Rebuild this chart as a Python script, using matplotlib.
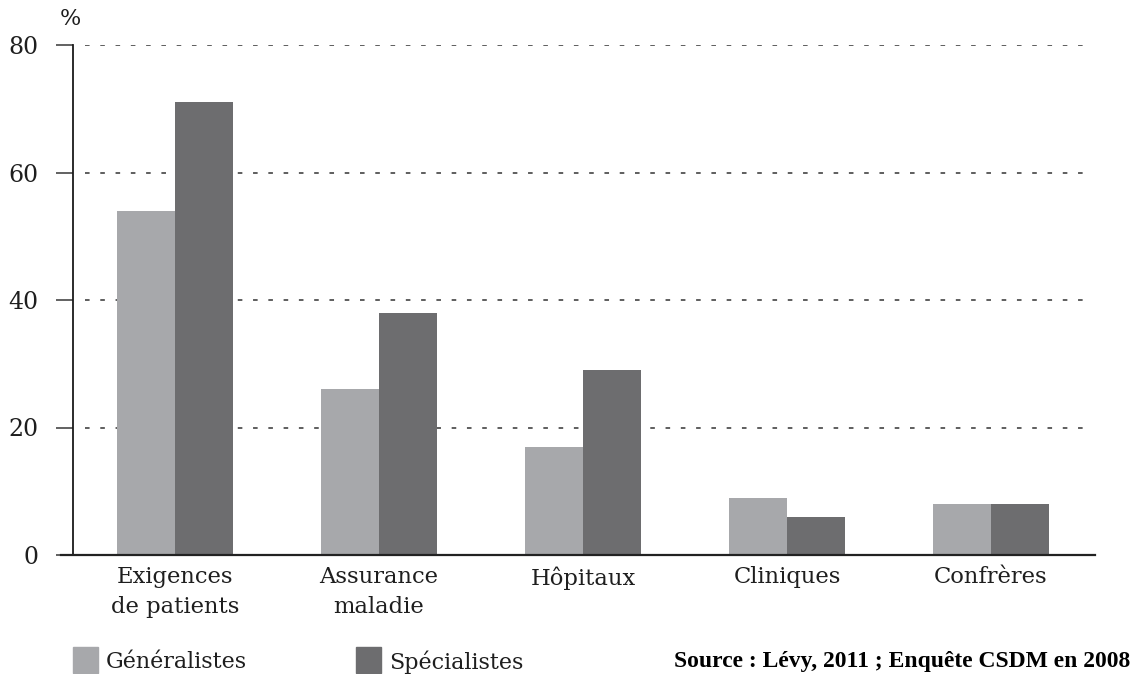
import numpy as np
import matplotlib.pyplot as plt
from matplotlib.patches import Rectangle

categories = ["Exigences\nde patients", "Assurance\nmaladie", "Hôpitaux", "Cliniques", "Confrères"]
generalistes = [54, 26, 17, 9, 8]
specialistes = [71, 38, 29, 6, 8]
series_names = ["Généralistes", "Spécialistes"]
yticks = [0, 20, 40, 60, 80]

light = "#a7a8ab"
dark = "#6d6d6f"
txt = "#1e1e1e"

plt.rcParams['font.family'] = ['DejaVu Serif']

fig = plt.figure(figsize=(11.36, 6.74), dpi=100)
W, H = 1136, 674
ax = fig.add_axes([61 / W, 119 / H, (1095 - 61) / W, (555 - 45) / H])

x = np.arange(len(categories))
bw = 0.285
ax.bar(x - bw / 2, generalistes, bw, color=light, zorder=3)
ax.bar(x + bw / 2, specialistes, bw, color=dark, zorder=3)

ax.set_xlim(-0.559, 4.51)
ax.set_ylim(0, 80)

# dotted grid lines
for v in yticks[1:]:
    ax.plot([-0.44, 4.48], [v, v], color="#333333", lw=1.1,
            linestyle=(0, (3, 7)), zorder=1)

for s in ["top", "right"]:
    ax.spines[s].set_visible(False)
ax.spines["bottom"].set_color("#222222")
ax.spines["bottom"].set_linewidth(1.6)
ax.spines["bottom"].set_zorder(4)
ax.spines["left"].set_position(("data", -0.5))
ax.spines["left"].set_color("#1a1a1a")
ax.spines["left"].set_linewidth(1.3)
ax.spines["left"].set_zorder(4)

ax.set_yticks(yticks)
ax.set_yticklabels([str(v) for v in yticks], fontsize=17, color=txt)
ax.tick_params(axis="y", length=12, width=1.3, color="#555555", pad=13)
ax.set_xticks(x)
ax.set_xticklabels(categories, fontsize=16.3, color=txt, linespacing=1.45)
ax.tick_params(axis="x", length=0, pad=8)

fig.text(70 / W, 1 - 19 / H, "%", fontsize=16, color=txt, ha="center", va="center")

# legend
for i, (name, col) in enumerate(zip(series_names, [light, dark])):
    x0 = [73, 356][i]
    fig.patches.append(Rectangle((x0 / W, 1 - 673 / H), 25 / W, 26 / H,
                                 transform=fig.transFigure, color=col))
    fig.text((x0 + 33) / W, 1 - 662 / H, name, fontsize=16, color=txt,
             ha="left", va="center")

fig.text(1130 / W, 1 - 662 / H, "Source : Lévy, 2011 ; Enquête CSDM en 2008",
         fontsize=17, family="Liberation Serif", weight="bold", color="black",
         ha="right", va="center")

fig.savefig("out.png", dpi=100)
